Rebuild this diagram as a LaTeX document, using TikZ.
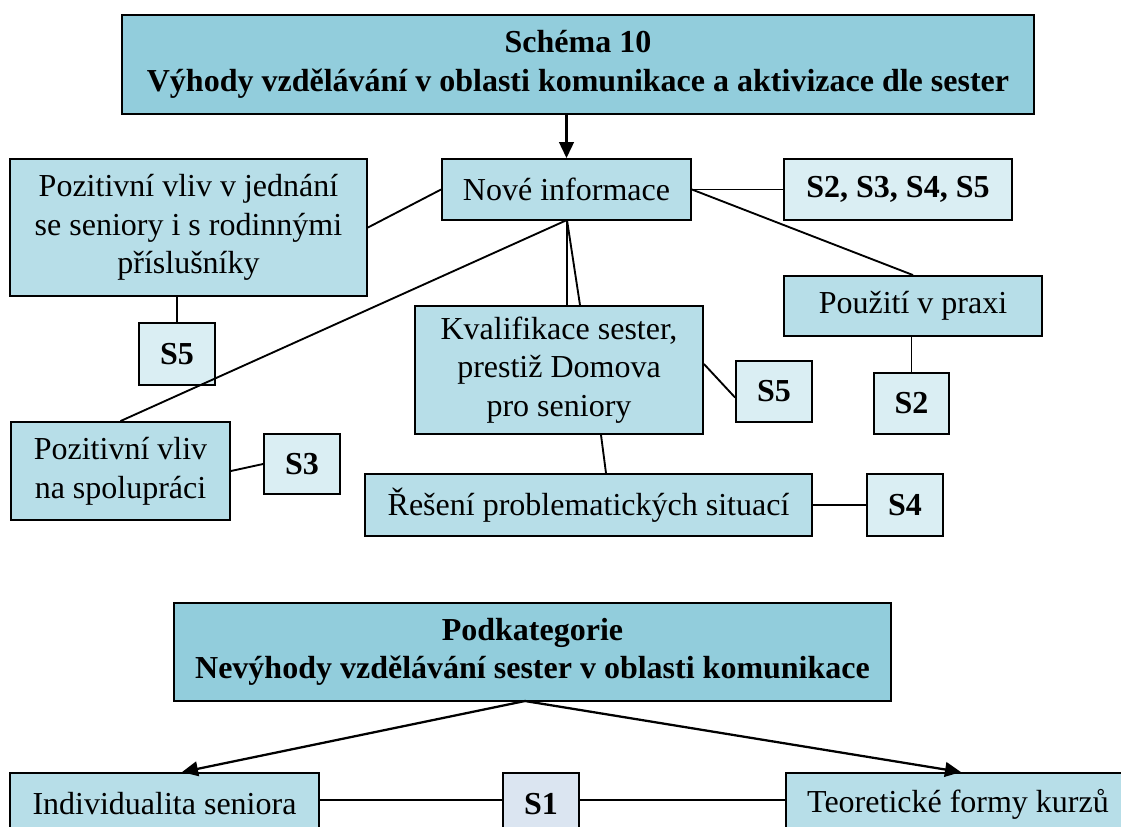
\documentclass[tikz,border=0pt]{standalone}
\usepackage{fontspec}
\setmainfont{Liberation Serif}
\usetikzlibrary{arrows.meta,calc}
\definecolor{headfill}{HTML}{92CDDC}
\definecolor{boxfill}{HTML}{B7DEE8}
\definecolor{codefill}{HTML}{DAEEF3}
\definecolor{codefillb}{HTML}{DBE5F1}
\tikzset{
  px/.style 2 args={minimum width=#1*0.75pt, minimum height=#2*0.75pt},
  base/.style={draw=black, line width=1.4pt, inner sep=0pt, align=center,
    font=\fontsize{24}{29}\selectfont},
  head/.style={base, fill=headfill, font=\fontsize{24}{29}\selectfont\bfseries},
  item/.style={base, fill=boxfill},
  code/.style={base, fill=codefill, font=\fontsize{24}{29}\selectfont\bfseries},
  link/.style={line width=1.4pt},
  arr/.style={line width=1.7pt, -{Triangle[length=12pt,width=11pt]}}
}
\begin{document}
\begin{tikzpicture}[x=0.75pt,y=-0.75pt]
\useasboundingbox (0,0) rectangle (1121,826);
\clip (0,0) rectangle (1121,826);

% upper scheme
\node[head, px={912}{99}] (title) at (578,64.5)
  {Schéma 10\\Výhody vzdělávání v oblasti komunikace a aktivizace dle sester};
\node[item, px={249}{61}] (nove) at (566.5,189.5) {Nové informace};
\node[code, px={228}{61}] (sall) at (898,189.5) {S2, S3, S4, S5};
\node[item, px={357}{137}] (poz1) at (188.5,227.5)
  {Pozitivní vliv v jednání\\se seniory i s rodinnými\\příslušníky};
\node[code, px={76}{62}] (s5a) at (177,354) {S5};
\node[item, px={219}{98}] (poz2) at (120.5,471) {Pozitivní vliv\\na spolupráci};
\node[code, px={76}{60}] (s3) at (302,464) {S3};
\node[item, px={288}{128}] (kval) at (559,370)
  {Kvalifikace sester,\\prestiž Domova\\pro seniory};
\node[code, px={76}{61}] (s5b) at (774,391.5) {S5};
\node[item, px={258}{60}] (pouz) at (913,306) {Použití v praxi};
\node[code, px={75}{61}] (s2) at (911.5,403.5) {S2};
\node[item, px={447}{62}] (res) at (588.5,505) {Řešení problematických situací};
\node[code, px={76}{62}] (s4) at (905,505) {S4};

\draw[arr] (title.south -| nove.north) -- (nove.north);
\draw[link] (nove.east) -- (sall.west);
\draw[link] (nove.east) -- (pouz.north);
\draw[link] (poz1.east) -- (nove.west);
\draw[link] (s5a.north) -- (s5a.north |- poz1.south);
\coordinate (nb) at (567,220);
\draw[link] (nb) -- (poz2.north);
\draw[link] (nb) -- (nb |- kval.north);
\draw[link] (nb) -- ($(nb |- kval.north)+(13,0)$);
\draw[link] (poz2.east) -- (s3.west);
\draw[link] ($(kval.east)+(0,-6)$) -- ($(s5b.west)+(0,6)$);
\draw[link] (s2.north) -- (s2.north |- pouz.south);
\draw[link] ($(kval.south)+(42,0)$) -- ($(res.north)+(17.5,0)$);
\draw[link] (res.east) -- (s4.west);

% lower scheme
\node[head, px={717}{98}] (podk) at (532.5,652)
  {Podkategorie\\Nevýhody vzdělávání sester v oblasti komunikace};
\node[item, px={309}{62}] (indiv) at (164.5,804) {Individualita seniora};
\node[base, fill=codefillb, font=\fontsize{24}{29}\selectfont\bfseries, px={76}{62}] (s1) at (541,804) {S1};
\node[item, px={344}{62}] (teor) at (958,804) {Teoretické formy kurzů};

\coordinate (pb) at (525,701);
\draw[arr] (pb) -- ($(indiv.north)+(17.5,0)$);
\draw[arr] (pb) -- ($(teor.north)+(3,0)$);
\draw[link] ($(indiv.east)+(0,-4)$) -- ($(s1.west)+(0,-4)$);
\draw[link] ($(s1.east)+(0,-4)$) -- ($(teor.west)+(0,-4)$);
\end{tikzpicture}
\end{document}
